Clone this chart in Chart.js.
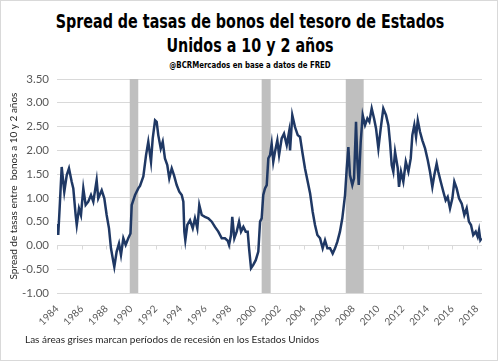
<!DOCTYPE html>
<html lang="es">
<head>
<meta charset="UTF-8">
<title>Spread 10 y 2 años</title>
<script src="https://cdn.jsdelivr.net/npm/chart.js@4.4.0/dist/chart.umd.min.js"></script>
<style>
  body { margin: 0; background: #fff; }
  .frame { position: relative; width: 500px; height: 363px; overflow: hidden; }
  .border { position: absolute; left: 0; top: 0; width: 496px; height: 359px; border: 1px solid #d9d9d9; }
  .head { position: absolute; left: 0; width: 500px; text-align: center; color: #000; white-space: nowrap;
          font-family: "Liberation Sans Narrow", "DejaVu Sans Condensed", sans-serif; font-weight: bold;
          transform-origin: 250px 50%; }
  .t1 { top: 9px; font-size: 20px; line-height: 24px; transform: scaleX(0.795); }
  .t2 { top: 33px; font-size: 20px; line-height: 24px; transform: scaleX(0.795); }
  .sub { top: 59px; font-size: 9.5px; line-height: 12px; transform: scaleX(0.82); }
  .note { position: absolute; left: 25px; top: 333px; font-family: Lato, sans-serif; font-size: 10px; color: #262626; white-space: nowrap; }
  canvas { position: absolute; left: 0; top: 0; }
</style>
</head>
<body>
<div class="frame">
    <div class="border"></div>
    <div class="head t1">Spread de tasas de bonos del tesoro de Estados</div>
    <div class="head t2">Unidos a 10 y 2 años</div>
    <div class="head sub">@BCRMercados en base a datos de FRED</div>
    <canvas id="chart" width="500" height="363"></canvas>
    <div class="note">Las áreas grises marcan períodos de recesión en los Estados Unidos</div>
</div>
<script>
    // fechas (año decimal) y spread 10y-2y
    const years = [
        1984.00, 1984.10, 1984.24, 1984.38, 1984.59, 1984.79, 1984.97, 1985.19, 1985.32, 1985.51,
        1985.60, 1985.78, 1985.94, 1986.13, 1986.32, 1986.53, 1986.75, 1986.94, 1987.21, 1987.34,
        1987.62, 1987.83, 1988.02, 1988.21, 1988.37, 1988.56, 1988.64, 1988.83, 1989.02, 1989.18,
        1989.37, 1989.56, 1989.77, 1989.95, 1990.05, 1990.32, 1990.58, 1990.72, 1990.99, 1991.21,
        1991.39, 1991.61, 1991.75, 1991.94, 1992.07, 1992.20, 1992.40, 1992.56, 1992.74, 1992.93,
        1993.09, 1993.29, 1993.47, 1993.69, 1993.90, 1994.10, 1994.23, 1994.31, 1994.39, 1994.55,
        1994.77, 1994.99, 1995.17, 1995.36, 1995.52, 1995.72, 1995.98, 1996.25, 1996.53, 1996.79,
        1997.06, 1997.34, 1997.60, 1997.82, 1997.93, 1998.09, 1998.19, 1998.36, 1998.55, 1998.74,
        1998.90, 1999.09, 1999.28, 1999.44, 1999.55, 1999.71, 1999.89, 2000.09, 2000.30, 2000.44,
        2000.57, 2000.70, 2000.84, 2000.98, 2001.11, 2001.25, 2001.38, 2001.51, 2001.65, 2001.84,
        2001.98, 2002.19, 2002.38, 2002.60, 2002.79, 2002.87, 2003.05, 2003.27, 2003.49, 2003.68,
        2003.86, 2004.08, 2004.30, 2004.49, 2004.70, 2004.89, 2005.08, 2005.30, 2005.51, 2005.70,
        2005.89, 2006.11, 2006.32, 2006.51, 2006.70, 2006.91, 2007.10, 2007.32, 2007.46, 2007.59,
        2007.72, 2007.91, 2008.05, 2008.21, 2008.32, 2008.43, 2008.59, 2008.75, 2008.94, 2009.13,
        2009.29, 2009.48, 2009.67, 2009.83, 2010.02, 2010.21, 2010.42, 2010.64, 2010.83, 2010.96,
        2011.10, 2011.23, 2011.37, 2011.59, 2011.69, 2011.85, 2012.04, 2012.24, 2012.45, 2012.64,
        2012.77, 2012.93, 2013.07, 2013.21, 2013.39, 2013.58, 2013.80, 2014.02, 2014.20, 2014.39,
        2014.55, 2014.74, 2014.87, 2015.07, 2015.28, 2015.47, 2015.63, 2015.82, 2016.01, 2016.17,
        2016.36, 2016.55, 2016.77, 2016.98, 2017.17, 2017.35, 2017.52, 2017.70, 2017.90, 2018.06,
        2018.17, 2018.28, 2018.39
    ];
    const spread = [
        0.45, 0.22, 0.92, 1.65, 1.13, 1.48, 1.62, 1.34, 1.20, 0.64,
        0.43, 0.78, 0.64, 1.20, 0.85, 0.92, 1.06, 0.92, 1.37, 0.99,
        1.16, 0.99, 0.64, 0.36, -0.06, -0.34, -0.45, -0.13, 0.04, -0.20,
        0.15, 0.01, 0.15, 0.25, 0.85, 1.06, 1.20, 1.25, 1.45, 1.90,
        2.18, 1.76, 2.25, 2.63, 2.60, 2.32, 2.04, 2.18, 1.83, 1.69,
        1.41, 1.62, 1.48, 1.27, 1.13, 1.06, 0.92, 0.29, 0.11, 0.43,
        0.53, 0.36, 0.57, 0.36, 0.85, 0.64, 0.60, 0.57, 0.50, 0.39,
        0.29, 0.15, 0.15, 0.10, 0.01, 0.22, 0.60, 0.15, 0.29, 0.50,
        0.29, 0.39, 0.29, 0.29, -0.06, -0.48, -0.41, -0.31, -0.13, 0.50,
        0.57, 1.06, 1.20, 1.27, 1.83, 1.90, 2.14, 1.76, 1.97, 2.21,
        1.90, 2.25, 2.35, 2.11, 2.39, 2.00, 2.74, 2.49, 2.32, 2.28,
        1.97, 1.62, 1.34, 1.10, 0.71, 0.43, 0.22, 0.15, -0.06, 0.11,
        -0.06, -0.06, -0.17, -0.06, 0.08, 0.29, 0.57, 1.06, 1.62, 2.07,
        1.48, 1.27, 1.41, 2.60, 1.76, 1.27, 2.18, 2.74, 2.53, 2.67,
        2.60, 2.88, 2.67, 2.46, 2.04, 2.46, 2.88, 2.74, 2.53, 2.18,
        1.69, 1.55, 1.97, 1.62, 1.23, 1.55, 1.34, 1.76, 1.55, 1.83,
        2.32, 2.53, 2.28, 2.63, 2.39, 2.21, 2.04, 1.79, 1.55, 1.23,
        1.48, 1.72, 1.55, 1.34, 1.13, 0.95, 1.02, 0.78, 0.99, 1.34,
        1.20, 0.99, 0.88, 0.64, 0.78, 0.50, 0.43, 0.22, 0.29, 0.18,
        0.32, 0.11, 0.15
    ];
    const xTicks = [1984, 1986, 1988, 1990, 1992, 1994, 1996, 1998, 2000, 2002,
                    2004, 2006, 2008, 2010, 2012, 2014, 2016, 2018];
    const recStart = [1989.89, 2000.57, 2007.38];
    const recEnd = [1990.58, 2001.30, 2008.83];

    const labelFont = "Lato, sans-serif";

    const recessions = {
        id: 'recessions',
        beforeDatasetsDraw(chart) {
            const {ctx, chartArea, scales: {x, y}} = chart;
            ctx.save();
            // marcas del eje horizontal sobre el cero
            ctx.strokeStyle = '#d9d9d9';
            ctx.lineWidth = 1;
            const y0 = Math.round(y.getPixelForValue(0)) + 0.5;
            xTicks.forEach(t => {
                const px = Math.round(x.getPixelForValue(t)) + 0.5;
                ctx.beginPath();
                ctx.moveTo(px, y0);
                ctx.lineTo(px, y0 + 4);
                ctx.stroke();
            });
            ctx.fillStyle = '#bfbfbf';
            recStart.forEach((s, i) => {
                const a = x.getPixelForValue(s);
                const b = x.getPixelForValue(recEnd[i]);
                ctx.fillRect(a, chartArea.top, b - a, chartArea.bottom - chartArea.top);
            });
            ctx.restore();
        }
    };

    new Chart(document.getElementById('chart'), {
        type: 'line',
        data: {
            datasets: [{
                data: years.map((yr, i) => ({x: yr, y: spread[i]})),
                borderColor: '#1f3864',
                borderWidth: 2.5,
                pointRadius: 0,
                tension: 0
            }]
        },
        options: {
            responsive: false,
            animation: false,
            layout: {padding: {top: 79, left: 0, right: 18, bottom: 0}},
            plugins: {legend: {display: false}, tooltip: {enabled: false}, title: {display: false}},
            scales: {
                x: {
                    type: 'linear',
                    min: 1984,
                    max: 2018.41,
                    afterBuildTicks: s => { s.ticks = xTicks.map(v => ({value: v})); },
                    afterFit: s => { s.height = 70; },
                    grid: {display: false},
                    border: {display: false},
                    ticks: {
                        autoSkip: false,
                        maxRotation: 45,
                        minRotation: 45,
                        padding: 2,
                        color: '#595959',
                        font: {family: labelFont, size: 10},
                        callback: v => String(v)
                    }
                },
                y: {
                    min: -1,
                    max: 3.5,
                    afterFit: s => { s.width = 57; },
                    grid: {color: '#d9d9d9', drawTicks: false},
                    border: {display: false},
                    ticks: {
                        stepSize: 0.5,
                        padding: 8,
                        color: '#595959',
                        font: {family: labelFont, size: 11.5},
                        callback: v => v.toFixed(2)
                    },
                    title: {
                        display: true,
                        text: 'Spread de tasas entre  bonos a 10 y 2 años',
                        color: '#262626',
                        font: {family: labelFont, size: 10},
                        padding: {top: 8, bottom: 0}
                    }
                }
            }
        },
        plugins: [recessions]
    });
</script>
</body>
</html>
